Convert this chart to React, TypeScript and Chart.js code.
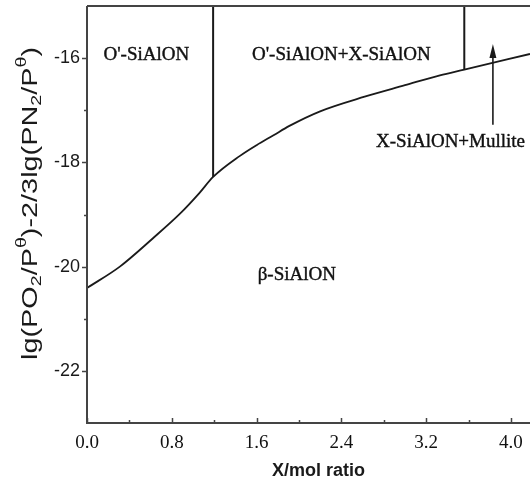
import { useEffect, useRef } from "react";
import { Chart, registerables } from "chart.js";

Chart.register(...registerables);

// Phase boundary separating β-SiAlON from the oxygen-rich assemblages
const boundaryX = [0, 0.31, 0.62, 0.88, 1.06, 1.19, 1.44, 1.6, 1.76, 1.91, 2.2, 2.62, 3.0, 3.33, 3.56, 4.18];
const boundaryY = [-20.41, -20.0, -19.46, -18.98, -18.59, -18.28, -17.88, -17.67, -17.48, -17.3, -17.02, -16.74, -16.52, -16.33, -16.22, -15.92];

// Vertical phase dividers, running from the top of the plot down to the boundary
const dividerX = [1.19, 3.56];
const dividerBottomY = [-18.28, -16.22];

// Axis ranges and tick spacing
const xMin = 0;
const xMax = 4.18;
const yMin = -23;
const yMax = -15;
const xTickValues = [0, 0.4, 0.8, 1.2, 1.6, 2.0, 2.4, 2.8, 3.2, 3.6, 4.0];
const xLabelEvery = 0.8;
const yTickValues = [-23, -22, -21, -20, -19, -18, -17, -16, -15];
const yLabelEvery = 2;

// Arrow pointing at the narrow X-SiAlON+Mullite field
const arrowX = 3.83;
const arrowFromY = -17.28;
const arrowToY = -15.73;

// Phase field names and where they sit (data units)
const regionNames = ["O'-SiAlON", "O'-SiAlON+X-SiAlON", "X-SiAlON+Mullite", "β-SiAlON"];
const regionX = [0.56, 2.4, 3.43, 1.98];
const regionY = [-15.94, -15.94, -17.6, -20.16];

const xTitle = "X/mol ratio";
// y title pieces: [text, "n" normal | "sub" | "sup"]
const yTitleParts: [string, string][] = [
  ["lg(PO", "n"], ["2", "sub"], ["/P", "n"], ["θ", "sup"],
  [")-2/3lg(PN", "n"], ["2", "sub"], ["/P", "n"], ["θ", "sup"], [")", "n"],
];

const INK = "#1a1a1a";
const AXIS = "#444";

const isMultiple = (v: number, step: number) => Math.abs(v / step - Math.round(v / step)) < 1e-6;

const decorations = {
  id: "decorations",
  afterDatasetsDraw(chart: any) {
    const { ctx, chartArea, scales } = chart;
    const xs = scales.x;
    const ys = scales.y;
    ctx.save();

    // frame: left, bottom and top edges
    ctx.strokeStyle = AXIS;
    ctx.lineWidth = 2;
    ctx.beginPath();
    ctx.moveTo(chartArea.left, chartArea.top);
    ctx.lineTo(chartArea.right, chartArea.top);
    ctx.moveTo(chartArea.left, chartArea.top);
    ctx.lineTo(chartArea.left, chartArea.bottom);
    ctx.lineTo(chartArea.right, chartArea.bottom);
    ctx.stroke();

    // tick marks: x ticks point inward, y ticks outward
    ctx.lineWidth = 1.5;
    ctx.beginPath();
    xTickValues.forEach((v) => {
      const px = Math.round(xs.getPixelForValue(v)) + 0.5;
      const len = isMultiple(v, xLabelEvery) ? 5 : 3;
      ctx.moveTo(px, chartArea.bottom);
      ctx.lineTo(px, chartArea.bottom - len);
    });
    yTickValues.slice(1, -1).forEach((v) => {
      const py = Math.round(ys.getPixelForValue(v)) + 0.5;
      const len = isMultiple(v, yLabelEvery) ? 5 : 3;
      ctx.moveTo(chartArea.left, py);
      ctx.lineTo(chartArea.left - len, py);
    });
    ctx.stroke();

    // arrow
    const ax = xs.getPixelForValue(arrowX);
    const ay0 = ys.getPixelForValue(arrowFromY);
    const ay1 = ys.getPixelForValue(arrowToY);
    ctx.strokeStyle = INK;
    ctx.fillStyle = INK;
    ctx.lineWidth = 1.6;
    ctx.beginPath();
    ctx.moveTo(ax, ay0);
    ctx.lineTo(ax, ay1 + 10);
    ctx.stroke();
    ctx.beginPath();
    ctx.moveTo(ax, ay1);
    ctx.lineTo(ax - 3.5, ay1 + 14);
    ctx.lineTo(ax + 3.5, ay1 + 14);
    ctx.closePath();
    ctx.fill();

    // phase field names, slightly heavier than the plain serif face
    ctx.font = "19px 'Liberation Serif', 'Times New Roman', serif";
    ctx.textAlign = "center";
    ctx.textBaseline = "middle";
    ctx.fillStyle = "#111";
    ctx.strokeStyle = "#111";
    ctx.lineWidth = 0.4;
    regionNames.forEach((name, i) => {
      const px = xs.getPixelForValue(regionX[i]);
      const py = ys.getPixelForValue(regionY[i]);
      ctx.fillText(name, px, py);
      ctx.strokeText(name, px, py);
    });

    // x axis title
    ctx.font = "bold 18px 'Liberation Sans', Arial, sans-serif";
    ctx.fillStyle = INK;
    ctx.fillText(xTitle, (chartArea.left + chartArea.right) / 2 + 10, chartArea.bottom + 48);

    // y axis title with subscripts and superscripts
    const mainFont = "22px 'Liberation Sans', Arial, sans-serif";
    const smallFont = "15px 'Liberation Sans', Arial, sans-serif";
    let total = 0;
    const widths = yTitleParts.map(([t, m]) => {
      ctx.font = m === "n" ? mainFont : smallFont;
      const w = ctx.measureText(t).width;
      total += w;
      return w;
    });
    const targetLen = 313;
    ctx.translate(31, (chartArea.top + chartArea.bottom) / 2 - 11);
    ctx.rotate(-Math.PI / 2);
    ctx.scale(targetLen / total, 1);
    ctx.textAlign = "left";
    ctx.textBaseline = "middle";
    let cx = -total / 2;
    yTitleParts.forEach(([t, m], i) => {
      ctx.font = m === "n" ? mainFont : smallFont;
      const dy = m === "sub" ? 6 : m === "sup" ? -9 : 0;
      ctx.fillText(t, cx, dy);
      cx += widths[i];
    });

    ctx.restore();
  },
};

export default function App() {
  const canvasRef = useRef<HTMLCanvasElement | null>(null);

  useEffect(() => {
    const canvas = canvasRef.current;
    if (!canvas) return;

    const boundary = boundaryX.map((x, i) => ({ x, y: boundaryY[i] }));
    const dividers = dividerX.map((x, i) => ({
      label: `divider${i}`,
      data: [
        { x, y: yMax },
        { x, y: dividerBottomY[i] },
      ],
      borderColor: INK,
      borderWidth: 2,
      pointRadius: 0,
      showLine: true,
    }));

    const chart = new Chart(canvas, {
      type: "scatter",
      data: {
        datasets: [
          {
            label: "boundary",
            data: boundary,
            borderColor: INK,
            borderWidth: 1.8,
            pointRadius: 0,
            showLine: true,
            cubicInterpolationMode: "monotone",
          },
          ...dividers,
        ],
      },
      options: {
        responsive: false,
        animation: false,
        layout: { padding: { top: 6, right: 0, left: 0, bottom: 0 } },
        plugins: {
          legend: { display: false },
          tooltip: { enabled: false },
          title: { display: false },
        },
        scales: {
          x: {
            type: "linear",
            min: xMin,
            max: xMax,
            grid: { display: false, drawTicks: false },
            border: { display: false },
            afterBuildTicks: (scale: any) => {
              scale.ticks = xTickValues.map((value) => ({ value }));
            },
            afterFit: (scale: any) => {
              scale.height = 68;
              scale.paddingLeft = 0;
              scale.paddingRight = 0;
            },
            ticks: {
              padding: 9,
              maxRotation: 0,
              autoSkip: false,
              color: "#111",
              font: { family: "'Liberation Serif', 'Times New Roman', serif", size: 19 },
              callback: (v: any) => (isMultiple(Number(v), xLabelEvery) ? Number(v).toFixed(1) : ""),
            },
          },
          y: {
            type: "linear",
            min: yMin,
            max: yMax,
            grid: { display: false, drawTicks: false },
            border: { display: false },
            afterBuildTicks: (scale: any) => {
              scale.ticks = yTickValues.map((value) => ({ value }));
            },
            afterFit: (scale: any) => {
              scale.width = 87;
              scale.paddingTop = 0;
              scale.paddingBottom = 0;
            },
            ticks: {
              padding: 7,
              autoSkip: false,
              color: INK,
              font: { family: "'Liberation Sans', Arial, sans-serif", size: 18 },
              callback: (v: any) => (isMultiple(Number(v), yLabelEvery) ? String(Number(v)) : ""),
            },
          },
        },
      },
      plugins: [decorations],
    } as any);

    return () => chart.destroy();
  }, []);

  return (
    <div style={{ position: "absolute", left: 0, top: 0, width: 530, height: 491, background: "#fff" }}>
      <canvas ref={canvasRef} width={530} height={491} />
    </div>
  );
}
